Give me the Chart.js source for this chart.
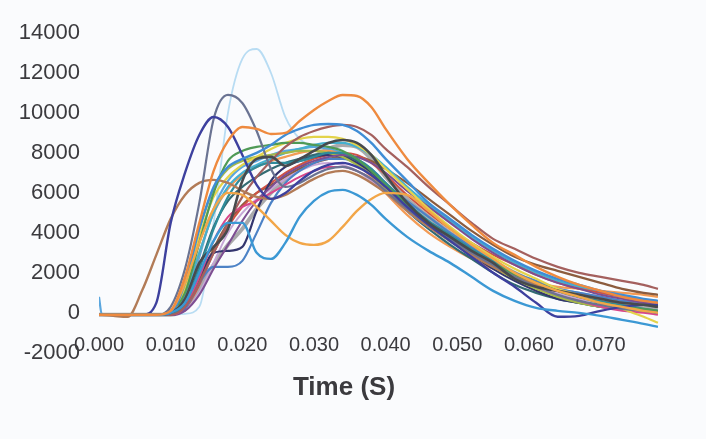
<!DOCTYPE html>
<html>
<head>
<meta charset="utf-8">
<script src="https://cdn.jsdelivr.net/npm/chart.js@4/dist/chart.umd.min.js"></script>
<style>
  html, body { margin: 0; padding: 0; background: #fafbfd; }
  #wrap { position: relative; width: 706px; height: 439px; }
</style>
</head>
<body>
<div id="wrap"><canvas id="c" width="706" height="439"></canvas></div>
<script>
// Sample times (s), shared by every trace
const times = [0, 0.0004, 0.002, 0.004, 0.006, 0.008, 0.010, 0.012, 0.014, 0.016, 0.018, 0.020,
  0.022, 0.024, 0.026, 0.028, 0.030, 0.032, 0.034, 0.036, 0.038, 0.040, 0.043, 0.046, 0.049,
  0.052, 0.055, 0.058, 0.061, 0.064, 0.067, 0.070, 0.073, 0.076, 0.078];

// Axis tick values
const xTickValues = [0, 0.01, 0.02, 0.03, 0.04, 0.05, 0.06, 0.07];
const yTickValues = [-2000, 0, 2000, 4000, 6000, 8000, 10000, 12000, 14000];

// Force traces, one array per test
const orange = [-100,-100,-100,-100,-100,-100,100,1800,4500,7100,8600,9300,9200,8950,9000,9600,10150,10600,10900,10850,10300,9200,7700,6500,5400,4400,3500,2900,2300,1800,1400,1100,800,600,500];
const bottomBlue = [-100,-100,-100,-100,-100,-100,0,500,2000,3600,4500,4500,3000,2700,3500,4800,5600,6050,6150,5900,5400,4700,3800,3100,2500,1800,1100,600,250,100,0,-150,-350,-550,-700];
const lightOrange = [-100,-100,-100,-100,-100,-100,100,1500,3500,5200,6000,5900,5300,4600,3900,3500,3400,3600,4300,5100,5700,6000,5900,5100,4200,3400,2700,2000,1500,1100,800,500,300,100,0];
const darkGray = [-100,-100,-100,-100,-100,-100,0,700,2500,3300,4200,6600,7700,7800,7350,7700,8100,8500,8650,8500,7900,6900,5500,4500,3800,3100,2500,1700,1300,1100,900,700,500,400,300];
const topBlue = [-100,-100,-100,-100,-100,-100,0,1500,4200,6300,7300,7700,8000,8400,8900,9200,9400,9450,9400,9100,8500,7700,6600,5500,4700,3900,3200,2600,2100,1700,1400,1100,900,700,600];
const navy = [-100,-100,-100,-100,-100,500,4500,7000,8900,9800,9300,7900,6400,5700,6000,6600,7100,7400,7500,7300,6900,6300,5300,4400,3600,2800,2000,1300,500,-200,-150,100,300,400,400];
const slate = [-100,-100,-100,-100,-100,-100,300,2200,5500,9700,10900,10500,9100,7200,6300,6500,6900,7200,7300,7100,6700,6100,5200,4400,3700,3000,2400,1800,1300,900,600,400,200,100,0];
const brown = [-100,-100,-150,-200,1100,2900,4700,5900,6500,6650,6500,6100,5800,5700,5900,6300,6700,7000,7100,6900,6500,6000,5100,4300,3600,2900,2300,1800,1400,1100,900,700,500,400,300];
const maroon = [-100,-100,-100,-100,-100,-100,-100,300,1500,3000,4500,5800,6800,7600,8300,8800,9100,9300,9400,9300,8900,8200,7300,6300,5400,4500,3700,3200,2700,2300,2000,1800,1600,1400,1200];
const green = [-100,-100,-100,-100,-100,-100,100,1000,3500,6000,7600,8100,8300,8400,8500,8500,8400,8300,8100,7700,7100,6400,5400,4500,3800,3100,2500,1900,1500,1100,800,500,300,200,100];
const teal = [-100,-100,-100,-100,-100,-100,-50,500,2200,4200,5800,6800,7300,7500,7500,7600,7800,8000,8000,7700,7200,6500,5500,4600,3900,3200,2600,2000,1500,1100,800,600,400,200,100];
const yellow = [-100,-100,-100,-100,-100,-100,0,1200,3800,5800,6800,7400,7800,8200,8500,8700,8800,8800,8700,8400,7900,7200,6200,5200,4300,3500,2800,2200,1700,1200,900,600,200,-200,-500];
const magenta = [-100,-100,-100,-100,-100,-100,-100,300,1800,3600,4800,5300,5600,6000,6400,6800,7100,7300,7300,7100,6700,6100,5200,4400,3700,3000,2400,1800,1300,900,600,300,100,0,-100];
const purple = [-100,-100,-100,-100,-100,-100,-100,100,900,2200,3400,4600,5600,6300,6900,7300,7600,7800,7900,7800,7500,7000,6100,5300,4500,3700,3000,2400,1900,1500,1200,900,700,500,400];
const olive = [-100,-100,-100,-100,-100,-100,100,1600,4200,6200,7200,7600,7800,7900,8000,8100,8100,8000,7800,7400,6900,6200,5300,4400,3600,3000,2300,1700,1200,800,500,300,200,100,0];
const darkNavy = [-100,-100,-100,-100,-100,-100,-100,300,1800,3000,3100,3300,5100,6600,7300,7600,7800,7900,7800,7500,7000,6300,5300,4400,3600,2900,2200,1600,1100,700,500,300,200,100,0];
const midBlue = [-100,-100,-100,-100,-100,-100,-100,200,1500,2300,2300,2600,4000,5500,6500,7100,7500,7700,7700,7500,7000,6400,5600,4800,4000,3300,2600,2000,1600,1200,1000,800,600,500,400];
const lightPurple = [-100,-100,-100,-100,-100,-100,-100,100,1000,2500,4000,5000,5700,6200,6700,7100,7400,7500,7400,7100,6600,6000,5100,4300,3600,2900,2300,1800,1300,1000,700,500,300,200,100];
const darkTeal = [-100,-100,-100,-100,-100,-100,-100,400,2300,4300,5600,6300,6800,7200,7500,7700,7900,8000,7900,7600,7000,6200,5100,4200,3400,2700,2000,1400,1000,700,500,300,200,100,0];
const red = [-100,-100,-100,-100,-100,-100,-100,200,1400,3000,4300,5300,6000,6500,7000,7400,7700,7900,8000,7900,7500,6900,5900,5000,4200,3500,2900,2400,1900,1500,1200,1000,800,600,500];
const cyan = [-100,-100,-100,-100,-100,-100,0,900,3000,5000,6300,7000,7400,7700,8000,8200,8400,8500,8500,8300,7900,7300,6300,5400,4600,3800,3100,2500,2000,1600,1300,1000,800,600,500];
const darkBrown = [-100,-100,-100,-100,-100,-100,-100,300,1600,3200,4500,5400,6000,6400,6800,7200,7500,7700,7800,7800,7600,7200,6500,5700,4900,4100,3400,2800,2400,2100,1800,1500,1200,1000,900];
const orange2 = [-100,-100,-100,-100,-100,-100,-100,800,3000,5000,6200,6900,7300,7600,7800,8000,8100,8100,7900,7500,6800,6000,4900,4000,3300,2700,2200,1800,1500,1300,1200,1100,1000,900,800];
const spikeBlue = [800,-100,-100,-100,-100,-100,-50,600,2800,5200,6600,7300,7600,7900,8100,8200,8300,8200,8000,7700,7200,6500,5400,4500,3700,3000,2400,1900,1500,1200,1000,800,600,400,300];
const lightGray = [-100,-100,-100,-100,-100,-100,-100,200,1200,2400,3400,4200,5200,6000,6700,7300,7800,8200,8400,8300,7700,6800,5700,4800,4000,3300,2600,2000,1500,1100,800,600,400,300,200];
const paleBlue = [-100,-100,-150,-150,-150,-150,-100,-50,300,4500,10000,12700,13200,12000,9800,8700,8300,8100,7900,7600,7000,6200,5100,4200,3500,2900,2300,1800,1400,1000,800,600,400,300,200];

// Trace styling (first entry is painted on top)
const traces = [
  { name: 'T1',  values: orange,      color: '#ee8a3f', width: 2.4 },
  { name: 'T2',  values: bottomBlue,  color: '#3b98d4', width: 2.4 },
  { name: 'T3',  values: lightOrange, color: '#f2a648', width: 2.4 },
  { name: 'T4',  values: darkGray,    color: '#474a4e', width: 2.6 },
  { name: 'T5',  values: topBlue,     color: '#3f8dd6', width: 2.4 },
  { name: 'T6',  values: navy,        color: '#3d409e', width: 2.4 },
  { name: 'T7',  values: slate,       color: '#6a7392', width: 2.2 },
  { name: 'T8',  values: brown,       color: '#b27b57', width: 2.4 },
  { name: 'T9',  values: maroon,      color: '#a4605e', width: 2.2 },
  { name: 'T10', values: green,       color: '#4f9a56', width: 2.2 },
  { name: 'T11', values: teal,        color: '#2f8c9b', width: 2.2 },
  { name: 'T12', values: yellow,      color: '#e3d34a', width: 2.2 },
  { name: 'T13', values: magenta,     color: '#d8478a', width: 2 },
  { name: 'T14', values: purple,      color: '#7d4e92', width: 2 },
  { name: 'T15', values: olive,       color: '#a5b84a', width: 2.2 },
  { name: 'T16', values: darkNavy,    color: '#33356e', width: 2.2 },
  { name: 'T17', values: midBlue,     color: '#4c82c6', width: 2.2 },
  { name: 'T18', values: lightPurple, color: '#c6a6d6', width: 2 },
  { name: 'T19', values: darkTeal,    color: '#336b72', width: 2.2 },
  { name: 'T20', values: red,         color: '#cf5244', width: 2 },
  { name: 'T21', values: cyan,        color: '#45b0cf', width: 2.2 },
  { name: 'T22', values: darkBrown,   color: '#8c5c3e', width: 2.2 },
  { name: 'T23', values: orange2,     color: '#f39b55', width: 2.2 },
  { name: 'T24', values: spikeBlue,   color: '#5aa6de', width: 2.2 },
  { name: 'T25', values: lightGray,   color: '#a9a9ab', width: 4 },
  { name: 'T26', values: paleBlue,    color: '#b8dcf3', width: 1.8 }
];

const datasets = traces.map(tr => ({
  label: tr.name,
  data: times.map((t, i) => ({ x: t, y: tr.values[i] })),
  borderColor: tr.color,
  borderWidth: tr.width,
  pointRadius: 0,
  fill: false,
  cubicInterpolationMode: 'monotone'
}));

const labelColor = '#3b3a3e';
const fontFamily = '"Liberation Sans", Arial, sans-serif';

new Chart(document.getElementById('c'), {
  type: 'line',
  data: { datasets },
  options: {
    responsive: false,
    animation: false,
    events: [],
    layout: { padding: { left: 10, right: 28, top: 33, bottom: 36 } },
    plugins: {
      legend: { display: false },
      tooltip: { enabled: false },
      title: {
        display: true,
        text: 'Time (S)',
        position: 'bottom',
        color: labelColor,
        font: { family: fontFamily, size: 26, weight: 'bold' },
        padding: { top: 19, bottom: 0 }
      }
    },
    scales: {
      x: {
        type: 'linear',
        position: { y: 0 },
        min: 0,
        max: 0.0808,
        grid: { display: false, drawTicks: false },
        border: { display: false },
        afterBuildTicks: s => { s.ticks = xTickValues.map(v => ({ value: v })); },
        ticks: {
          padding: 21,
          color: labelColor,
          maxRotation: 0,
          autoSkip: false,
          font: { family: fontFamily, size: 20 },
          callback: v => Number(v).toFixed(3)
        }
      },
      y: {
        min: -2000,
        max: 14000,
        grid: { display: false, drawTicks: false },
        border: { display: false },
        afterBuildTicks: s => { s.ticks = yTickValues.map(v => ({ value: v })); },
        afterFit: s => { s.width = 89; },
        ticks: {
          padding: 19,
          color: labelColor,
          font: { family: fontFamily, size: 22 },
          callback: v => String(v)
        }
      }
    }
  }
});
</script>
</body>
</html>
